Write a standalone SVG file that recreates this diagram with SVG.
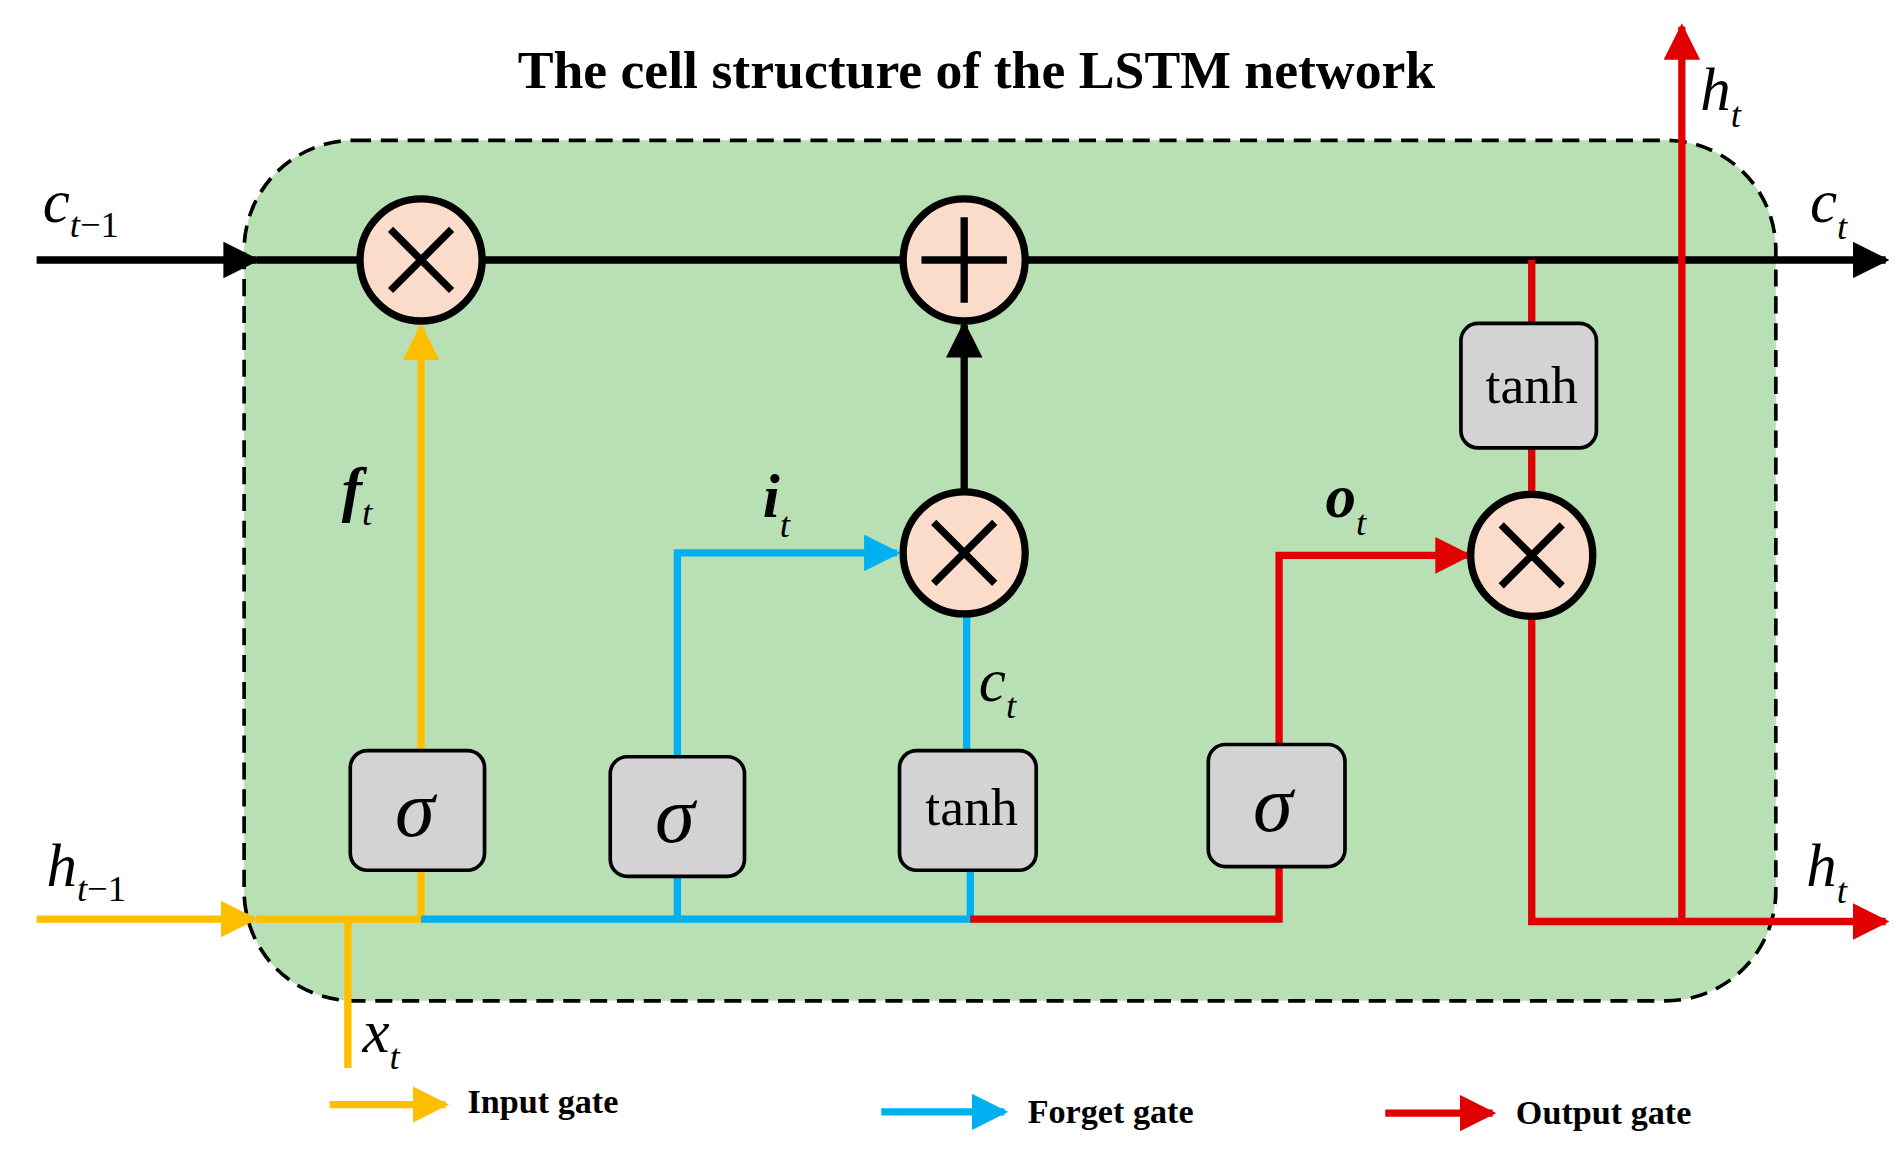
<svg xmlns="http://www.w3.org/2000/svg" width="1904" height="1151" viewBox="0 0 1904 1151">
<style>
.t{font-family:"Liberation Serif",serif}
.i{font-family:"Liberation Serif",serif;font-style:italic}
.op{fill:#fbdccb;stroke:#000;stroke-width:6}
.bx{fill:#d3d3d3;stroke:#000;stroke-width:3}
.y{stroke:#ffbf00;stroke-width:6;fill:none}
.b{stroke:#00b0f0;stroke-width:6;fill:none}
.r{stroke:#e00000;stroke-width:6;fill:none}
.k{stroke:#000;stroke-width:6;fill:none}
</style>
<defs>
<marker id="ak" viewBox="0 0 10 10" refX="9" refY="5" markerWidth="5" markerHeight="5" orient="auto" markerUnits="strokeWidth"><path d="M0,0L10,5L0,10z" fill="#000"/></marker>
<marker id="ay" viewBox="0 0 10 10" refX="9" refY="5" markerWidth="5" markerHeight="5" orient="auto" markerUnits="strokeWidth"><path d="M0,0L10,5L0,10z" fill="#ffbf00"/></marker>
<marker id="ab" viewBox="0 0 10 10" refX="9" refY="5" markerWidth="5" markerHeight="5" orient="auto" markerUnits="strokeWidth"><path d="M0,0L10,5L0,10z" fill="#00b0f0"/></marker>
<marker id="ar" viewBox="0 0 10 10" refX="9" refY="5" markerWidth="5" markerHeight="5" orient="auto" markerUnits="strokeWidth"><path d="M0,0L10,5L0,10z" fill="#e00000"/></marker>
</defs>
<rect width="1904" height="1151" fill="#fff"/>
<g transform="scale(1.2205)">
<text class="t" x="800" y="72" font-size="44" font-weight="bold" text-anchor="middle">The cell structure of the LSTM network</text>
<rect id="cell" x="200" y="115" width="1255" height="705" rx="90" fill="#b8e0b4" stroke="#000" stroke-width="3" stroke-dasharray="14,8"/>
<g id="connectors">
<path class="k" d="M30,213H210" marker-end="url(#ak)"/>
<path class="k" d="M210,213H1545" marker-end="url(#ak)"/>
<path class="k" d="M790,403V266" marker-end="url(#ak)"/>
<path class="y" d="M30,753H208" marker-end="url(#ay)"/>
<path class="y" d="M210,753H347M285,753V875"/>
<path class="y" d="M345,753V268" marker-end="url(#ay)"/>
<path class="b" d="M345,753H795V713M555,753V718M792,615V503"/>
<path class="b" d="M555,620V453H735" marker-end="url(#ab)"/>
<path class="r" d="M795,753H1048V710"/>
<path class="r" d="M1048,610V455H1203" marker-end="url(#ar)"/>
<path class="r" d="M1255,213V265M1255,367V405"/>
<path class="r" d="M1255,505V755H1545" marker-end="url(#ar)"/>
<path class="r" d="M1378,755V22" marker-end="url(#ar)"/>
</g>
<g id="mul1"><circle class="op" cx="345" cy="213" r="50"/><path class="k" d="M320,188L370,238M370,188L320,238"/></g>
<g id="add"><circle class="op" cx="790" cy="213" r="50"/><path class="k" d="M790,178V248M755,213H825"/></g>
<g id="mul2"><circle class="op" cx="790" cy="453" r="50"/><path class="k" d="M765,428L815,478M815,428L765,478"/></g>
<g id="mul3"><circle class="op" cx="1255" cy="455" r="50"/><path class="k" d="M1230,430L1280,480M1280,430L1230,480"/></g>
<g id="sig1"><rect class="bx" x="287" y="615" width="110" height="98" rx="14"/><text class="i" x="340" y="685" font-size="66" text-anchor="middle">σ</text></g>
<g id="sig2"><rect class="bx" x="500" y="620" width="110" height="98" rx="14"/><text class="i" x="553" y="690" font-size="66" text-anchor="middle">σ</text></g>
<g id="tanh1"><rect class="bx" x="737" y="615" width="112" height="98" rx="14"/><text class="t" x="796" y="676" font-size="44" text-anchor="middle">tanh</text></g>
<g id="sig3"><rect class="bx" x="990" y="610" width="112" height="100" rx="14"/><text class="i" x="1043" y="681" font-size="66" text-anchor="middle">σ</text></g>
<g id="tanh2"><rect class="bx" x="1197" y="265" width="111" height="102" rx="14"/><text class="t" x="1255" y="330" font-size="44" text-anchor="middle">tanh</text></g>
<g font-size="50">
<text class="i" x="35" y="182">c<tspan font-size="30" dy="12">t</tspan><tspan class="t" font-style="normal" font-size="30">−1</tspan></text>
<text class="i" x="1483" y="182">c<tspan font-size="30" dy="14">t</tspan></text>
<text class="i" x="1393" y="90">h<tspan font-size="30" dy="14">t</tspan></text>
<text class="i" x="280" y="418" font-weight="bold">f<tspan font-size="30" font-weight="normal" dy="12">t</tspan></text>
<text class="i" x="625" y="424" font-weight="bold">i<tspan font-size="30" font-weight="normal" dy="16">t</tspan></text>
<text class="i" x="1086" y="424" font-weight="bold">o<tspan font-size="30" font-weight="normal" dy="14">t</tspan></text>
<text class="i" x="802" y="574">c<tspan font-size="30" dy="14">t</tspan></text>
<text class="i" x="38" y="726">h<tspan font-size="30" dy="12">t</tspan><tspan class="t" font-style="normal" font-size="30">−1</tspan></text>
<text class="i" x="1480" y="726">h<tspan font-size="30" dy="14">t</tspan></text>
<text class="i" x="297" y="862">x<tspan font-size="30" dy="14">t</tspan></text>
</g>
<g id="legend">
<path class="y" d="M270,905H365" marker-end="url(#ay)"/>
<text class="t" x="383" y="912" font-size="28" font-weight="bold">Input gate</text>
<path class="b" d="M722,911H823" marker-end="url(#ab)"/>
<text class="t" x="842" y="920" font-size="28" font-weight="bold">Forget gate</text>
<path class="r" d="M1135,912H1223" marker-end="url(#ar)"/>
<text class="t" x="1242" y="921" font-size="28" font-weight="bold">Output gate</text>
</g>
</g>
</svg>
